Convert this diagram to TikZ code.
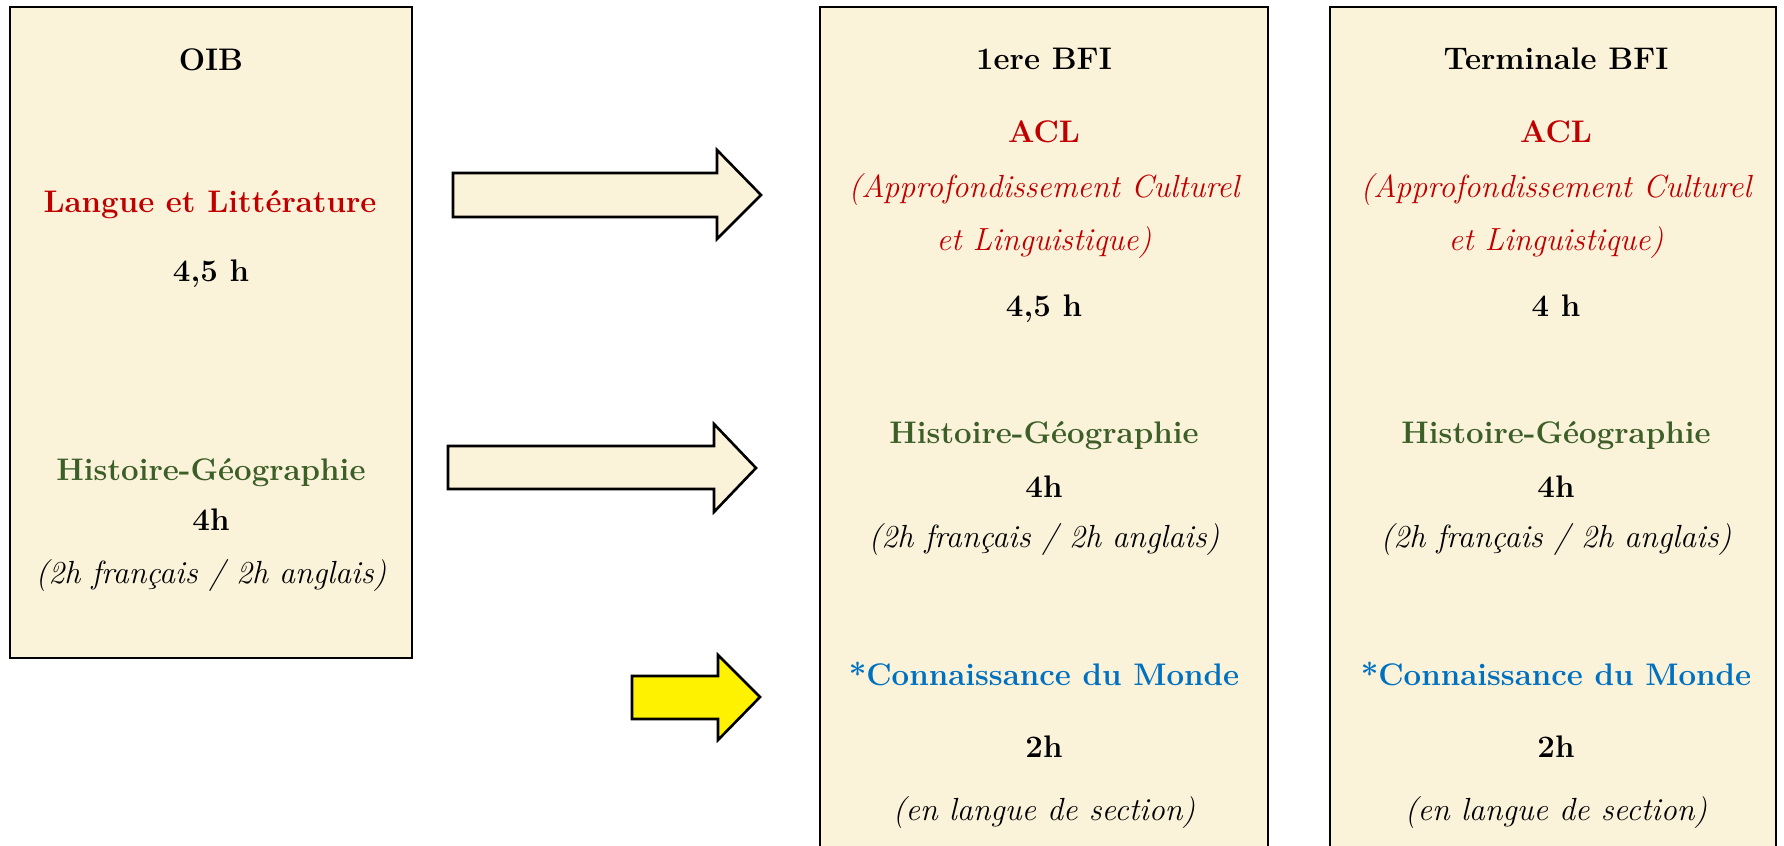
\documentclass[tikz,border=0pt]{standalone}
\usetikzlibrary{fit}
\definecolor{parch}{RGB}{251,242,218}
\definecolor{redtxt}{RGB}{192,0,0}
\definecolor{greentxt}{RGB}{60,95,40}
\definecolor{bluetxt}{RGB}{0,112,192}
\begin{document}
\begin{tikzpicture}[x=0.5pt,y=-0.5pt,
  box/.style={draw=black,line width=1pt,fill=parch,inner sep=0pt},
  blockarrow/.style={draw=black,line width=1.3pt,line join=miter},
  bt/.style={font=\fontsize{15.6}{18}\selectfont\bfseries,anchor=base},
  it/.style={font=\fontsize{16}{19}\selectfont\itshape,anchor=base}]
\useasboundingbox (0,0) rectangle (1784,846);
\clip (0,0) rectangle (1784,846);
% boxes
\node[box,fit={(10,7) (412,658)}] (oib) {};
\node[box,fit={(820,7) (1268,870)}] (prem) {};
\node[box,fit={(1330,7) (1776,870)}] (term) {};
% block arrows
\filldraw[blockarrow,fill=parch] (453,173) -- (717,173) -- (717,150) -- (761,195) -- (717,239) -- (717,217) -- (453,217) -- cycle;
\filldraw[blockarrow,fill=parch] (448,446) -- (714,446) -- (714,424) -- (756,468) -- (714,512) -- (714,489) -- (448,489) -- cycle;
\filldraw[blockarrow,fill=yellow] (632,676) -- (718,676) -- (718,655) -- (760,697) -- (718,740) -- (718,719) -- (632,719) -- cycle;
% OIB texts
\node[bt] (o1) at (211,70) {OIB};
\node[bt,text=redtxt] (o2) at (210,212) {Langue et Littérature};
\node[bt] (o3) at (211,281) {4,5 h};
\node[bt,text=greentxt] (o4) at (211,480) {Histoire-Géographie};
\node[bt] (o5) at (211,530) {4h};
\node[it] (o6) at (211,583) {(2h français / 2h anglais)};
% 1ere BFI and Terminale BFI texts
\foreach \cx/\nm/\title/\hrs in {1044/p/1ere BFI/{4,5 h}, 1556/t/Terminale BFI/{4 h}}{
  \node[bt] (\nm1) at (\cx,69) {\title};
  \node[bt,text=redtxt] (\nm2) at (\cx,142) {ACL};
  \node[it,text=redtxt] (\nm3) at (\cx,197) {(Approfondissement Culturel};
  \node[it,text=redtxt] (\nm4) at (\cx,250) {et Linguistique)};
  \node[bt] (\nm5) at (\cx,316) {\hrs};
  \node[bt,text=greentxt] (\nm6) at (\cx,443) {Histoire-Géographie};
  \node[bt] (\nm7) at (\cx,497) {4h};
  \node[it] (\nm8) at (\cx,547) {(2h français / 2h anglais)};
  \node[bt,text=bluetxt] (\nm9) at (\cx,685) {*Connaissance du Monde};
  \node[bt] (\nm10) at (\cx,757) {2h};
  \node[it] (\nm11) at (\cx,820) {(en langue de section)};
}
\end{tikzpicture}
\end{document}
